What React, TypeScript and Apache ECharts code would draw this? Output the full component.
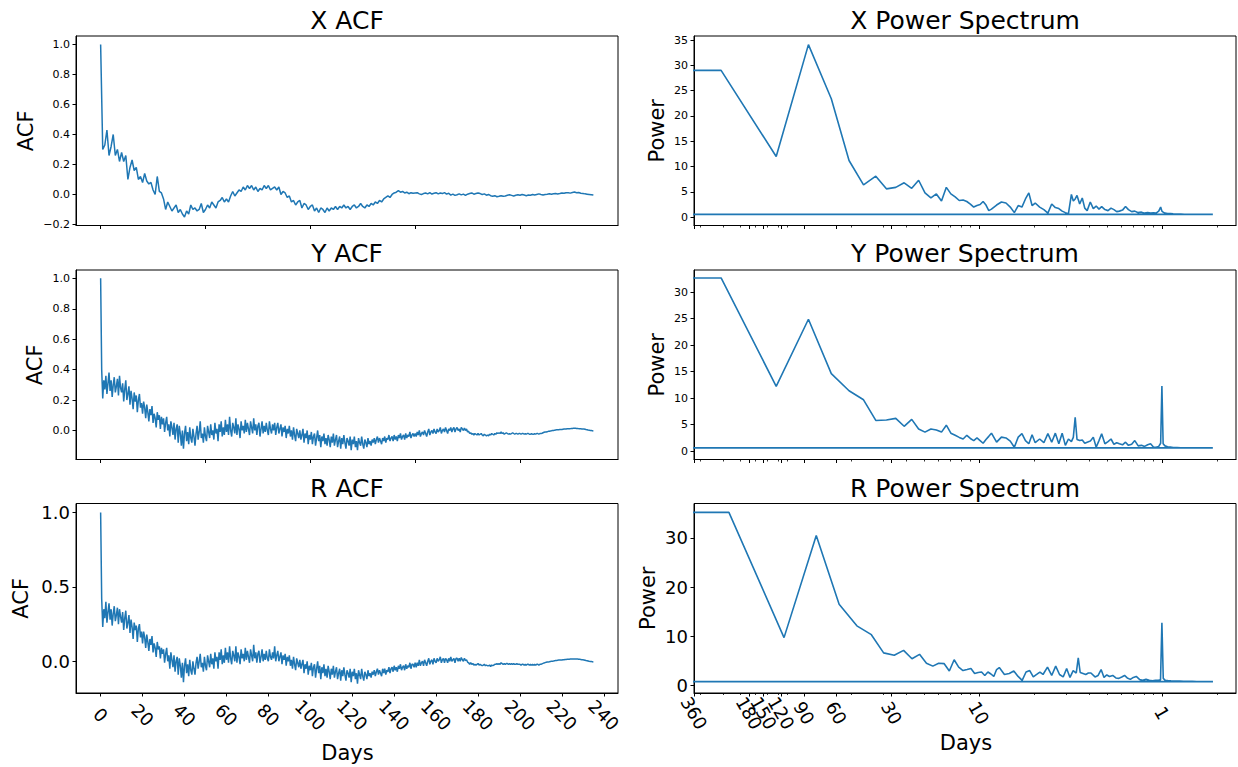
import React, { useEffect, useRef } from "react";
import * as echarts from "echarts";

// ---------------- data ----------------
// ACF values; lag (days) = index * step
const xAcfLagStepDays = 1;
const yrAcfLagStepDays = 0.5;

const xAcf = [
  1.0, 0.30, 0.33, 0.43, 0.26, 0.32, 0.40, 0.26, 0.30, 0.22,
  0.28, 0.22, 0.26, 0.10, 0.18, 0.23, 0.16, 0.18, 0.10, 0.12,
  0.08, 0.14, 0.09, 0.07, 0.08, 0.03, 0.00, 0.12, 0.02, 0.01,
  -0.03, -0.10, -0.05, -0.08, -0.11, -0.09, -0.07, -0.12, -0.10, -0.13,
  -0.15, -0.11, -0.13, -0.07, -0.10, -0.09, -0.11, -0.10, -0.06, -0.12,
  -0.10, -0.07, -0.09, -0.05, -0.07, -0.09, -0.05, -0.04, -0.02, -0.05,
  -0.03, -0.05, -0.01, 0.02, -0.01, 0.01, 0.03, 0.02, 0.05, 0.03,
  0.06, 0.04, 0.06, 0.03, 0.05, 0.02, 0.04, 0.03, 0.06, 0.04,
  0.06, 0.03, 0.04, 0.05, 0.03, 0.05, 0.00, 0.02, 0.01, -0.02,
  -0.01, -0.05, -0.04, -0.07, -0.05, -0.04, -0.09, -0.06, -0.07, -0.10,
  -0.08, -0.07, -0.11, -0.09, -0.12, -0.09, -0.10, -0.12, -0.09, -0.11,
  -0.09, -0.10, -0.08, -0.10, -0.08, -0.09, -0.07, -0.09, -0.08, -0.10,
  -0.08, -0.07, -0.09, -0.08, -0.06, -0.08, -0.09, -0.07, -0.08, -0.06,
  -0.07, -0.05, -0.06, -0.04, -0.05, -0.03, -0.02, -0.01, -0.02, 0.00,
  0.01, 0.015, 0.025, 0.015, 0.02, 0.01, 0.015, 0.005, 0.012, 0.008,
  0.01, 0.012, 0.004, 0.0, 0.006, 0.01, 0.004, 0.012, 0.003, 0.008,
  0.012, 0.004, 0.01, 0.006, 0.012, 0.002, 0.008, -0.004, 0.002, -0.006,
  -0.002, 0.004, -0.003, 0.002, -0.006, 0.002, 0.006, 0.01, 0.002, 0.006,
  0.01, 0.006, 0.0, 0.004, -0.005, 0.0, -0.008, -0.012, -0.008, -0.015,
  -0.012, -0.008, -0.012, -0.01, -0.005, -0.002, -0.006, -0.01, -0.005, -0.002,
  -0.005, 0.0, -0.004, -0.008, -0.004, -0.005, 0.0, -0.004, 0.0, 0.004,
  0.0, -0.003, 0.0, 0.002, 0.005, 0.002, 0.005, 0.006, 0.003, 0.006,
  0.01, 0.008, 0.012, 0.012, 0.009, 0.013, 0.016, 0.012, 0.013, 0.008,
  0.007, 0.004, 0.002, 0.0, -0.002, -0.004,
];

const yAcf = [
  1.00, 0.40, 0.21, 0.33, 0.27, 0.36, 0.24, 0.31, 0.38, 0.26,
  0.33, 0.22, 0.30, 0.35, 0.25, 0.29, 0.34, 0.23, 0.36, 0.28,
  0.25, 0.31, 0.19, 0.27, 0.33, 0.20, 0.24, 0.29, 0.17, 0.26,
  0.21, 0.14, 0.25, 0.19, 0.23, 0.12, 0.20, 0.24, 0.15, 0.18,
  0.11, 0.19, 0.15, 0.08, 0.17, 0.12, 0.06, 0.14, 0.10, 0.16,
  0.05, 0.11, 0.08, 0.02, 0.12, 0.07, 0.10, 0.01, 0.09, 0.04,
  0.08, -0.01, 0.05, 0.09, 0.00, 0.04, -0.04, 0.06, 0.02, -0.03,
  0.05, -0.06, 0.01, 0.04, -0.08, 0.03, -0.02, -0.10, 0.00, -0.12,
  -0.02, 0.03, -0.07, -0.01, -0.09, 0.02, -0.05, -0.08, 0.01, -0.04,
  -0.10, -0.02, 0.03, -0.06, -0.01, 0.06, -0.05, -0.02, -0.08, 0.02,
  -0.04, -0.07, 0.03, -0.01, -0.05, 0.04, -0.03, 0.00, -0.06, 0.05,
  -0.02, 0.01, -0.07, 0.04, -0.01, 0.06, -0.04, 0.02, -0.03, 0.07,
  -0.01, 0.04, -0.03, 0.09, 0.00, -0.04, 0.05, 0.02, -0.02, 0.08,
  -0.03, 0.04, 0.01, -0.05, 0.06, 0.00, 0.03, -0.02, 0.07, -0.01,
  0.05, 0.01, -0.03, 0.06, 0.02, -0.02, 0.08, 0.00, 0.04, -0.03,
  0.03, 0.05, -0.04, 0.01, 0.06, -0.02, 0.03, -0.01, 0.05, 0.00,
  -0.03, 0.06, 0.01, -0.02, 0.04, 0.00, 0.05, -0.03, 0.02, 0.05,
  -0.02, 0.01, 0.04, -0.04, 0.02, -0.01, 0.03, -0.05, 0.01, -0.02,
  0.03, -0.04, 0.00, -0.06, 0.02, -0.03, -0.07, 0.01, -0.02, -0.05,
  0.00, -0.06, -0.03, 0.01, -0.08, -0.02, -0.05, 0.00, -0.09, -0.03,
  -0.06, -0.01, -0.09, -0.04, -0.02, -0.10, -0.05, 0.00, -0.07, -0.03,
  -0.11, -0.04, -0.07, -0.02, -0.09, -0.05, -0.10, -0.03, -0.06, -0.11,
  -0.04, -0.08, -0.02, -0.10, -0.06, -0.03, -0.11, -0.07, -0.04, -0.12,
  -0.05, -0.09, -0.03, -0.08, -0.12, -0.05, -0.07, -0.10, -0.04, -0.13,
  -0.06, -0.09, -0.04, -0.11, -0.07, -0.13, -0.05, -0.08, -0.10, -0.04,
  -0.09, -0.12, -0.06, -0.08, -0.11, -0.05, -0.09, -0.07, -0.10, -0.06,
  -0.08, -0.05, -0.09, -0.06, -0.04, -0.08, -0.05, -0.07, -0.09, -0.05,
  -0.07, -0.04, -0.08, -0.05, -0.06, -0.03, -0.07, -0.05, -0.04, -0.07,
  -0.03, -0.06, -0.04, -0.07, -0.03, -0.05, -0.02, -0.06, -0.04, -0.03,
  -0.06, -0.02, -0.05, -0.03, -0.04, -0.01, -0.05, -0.03, -0.02, -0.04,
  -0.02, -0.04, -0.01, -0.03, 0.00, -0.04, -0.02, -0.01, -0.03, 0.00,
  -0.02, -0.04, -0.01, 0.01, -0.03, -0.01, 0.00, -0.02, 0.01, -0.01,
  -0.02, 0.01, -0.01, 0.00, 0.02, -0.02, 0.00, 0.01, -0.01, 0.02,
  0.00, -0.02, 0.01, 0.00, 0.02, -0.01, 0.01, 0.02, -0.01, 0.01,
  0.02, 0.00, 0.01, -0.01, 0.02, 0.01, 0.00, 0.015, 0.00, 0.01,
  -0.01, -0.005, -0.02, -0.015, -0.025, -0.02, -0.03, -0.02, -0.025, -0.03,
  -0.02, -0.03, -0.025, -0.02, -0.03, -0.035, -0.025, -0.03, -0.035, -0.03,
  -0.035, -0.025, -0.03, -0.02, -0.025, -0.03, -0.02, -0.025, -0.015, -0.02,
  -0.015, -0.02, -0.01, -0.02, -0.015, -0.025, -0.02, -0.015, -0.02, -0.025,
  -0.02, -0.025, -0.02, -0.015, -0.02, -0.025, -0.02, -0.02, -0.025, -0.02,
  -0.02, -0.025, -0.02, -0.02, -0.025, -0.02, -0.025, -0.02, -0.02, -0.025,
  -0.025, -0.02, -0.025, -0.025, -0.02, -0.025, -0.02, -0.02, -0.025, -0.02,
  -0.02, -0.018, -0.015, -0.012, -0.01, -0.01, -0.008, -0.006, -0.005, -0.003,
  -0.002, 0.0, 0.0, 0.002, 0.003, 0.004, 0.005, 0.005, 0.006, 0.007,
  0.007, 0.008, 0.009, 0.01, 0.01, 0.011, 0.011, 0.012, 0.012, 0.013,
  0.013, 0.014, 0.014, 0.014, 0.013, 0.013, 0.012, 0.012, 0.011, 0.01,
  0.01, 0.009, 0.008, 0.006, 0.005, 0.003, 0.002, 0.0, -0.001, -0.002,
  -0.003,
];

const rAcf = [
  1.00, 0.42, 0.23, 0.35, 0.29, 0.40, 0.26, 0.33, 0.39, 0.28,
  0.35, 0.24, 0.32, 0.37, 0.27, 0.31, 0.36, 0.25, 0.35, 0.30,
  0.26, 0.33, 0.21, 0.29, 0.34, 0.22, 0.26, 0.31, 0.19, 0.28,
  0.23, 0.15, 0.26, 0.21, 0.24, 0.13, 0.22, 0.25, 0.16, 0.20,
  0.12, 0.20, 0.16, 0.09, 0.18, 0.13, 0.07, 0.15, 0.11, 0.17,
  0.06, 0.12, 0.09, 0.03, 0.13, 0.08, 0.10, 0.02, 0.09, 0.05,
  0.08, -0.01, 0.05, 0.09, 0.00, 0.04, -0.05, 0.06, 0.01, -0.04,
  0.04, -0.07, 0.00, 0.03, -0.09, 0.02, -0.03, -0.11, -0.01, -0.14,
  -0.03, 0.02, -0.08, -0.02, -0.10, 0.01, -0.06, -0.09, 0.00, -0.05,
  -0.09, -0.01, 0.03, -0.05, 0.00, 0.05, -0.04, -0.01, -0.07, 0.03,
  -0.03, -0.06, 0.04, 0.00, -0.04, 0.05, -0.02, 0.02, -0.05, 0.06,
  0.00, 0.03, -0.05, 0.06, 0.01, 0.08, -0.02, 0.04, -0.01, 0.09,
  0.01, 0.06, -0.01, 0.10, 0.02, -0.02, 0.07, 0.04, 0.00, 0.10,
  -0.01, 0.06, 0.03, -0.02, 0.08, 0.02, 0.05, 0.00, 0.09, 0.01,
  0.07, 0.03, -0.01, 0.08, 0.04, 0.00, 0.11, 0.02, 0.06, -0.01,
  0.05, 0.07, -0.01, 0.03, 0.08, 0.00, 0.05, 0.01, 0.07, 0.02,
  0.00, 0.08, 0.03, 0.01, 0.06, 0.02, 0.10, 0.00, 0.04, 0.07,
  0.00, 0.03, 0.06, -0.02, 0.04, 0.01, 0.05, -0.03, 0.03, 0.00,
  0.04, -0.03, 0.01, -0.05, 0.03, -0.02, -0.06, 0.02, -0.01, -0.04,
  0.01, -0.05, -0.02, 0.01, -0.08, -0.02, -0.05, 0.00, -0.09, -0.03,
  -0.06, -0.01, -0.10, -0.04, -0.02, -0.11, -0.05, 0.00, -0.08, -0.03,
  -0.12, -0.04, -0.08, -0.02, -0.10, -0.05, -0.11, -0.03, -0.07, -0.12,
  -0.05, -0.09, -0.03, -0.11, -0.07, -0.04, -0.12, -0.08, -0.05, -0.13,
  -0.06, -0.10, -0.04, -0.09, -0.13, -0.06, -0.08, -0.11, -0.05, -0.14,
  -0.07, -0.10, -0.05, -0.12, -0.08, -0.15, -0.06, -0.09, -0.12, -0.05,
  -0.10, -0.13, -0.07, -0.09, -0.12, -0.06, -0.10, -0.08, -0.11, -0.07,
  -0.09, -0.06, -0.10, -0.07, -0.05, -0.09, -0.06, -0.08, -0.10, -0.05,
  -0.08, -0.05, -0.09, -0.06, -0.07, -0.04, -0.08, -0.05, -0.04, -0.07,
  -0.03, -0.06, -0.04, -0.07, -0.03, -0.05, -0.02, -0.06, -0.04, -0.03,
  -0.06, -0.02, -0.05, -0.03, -0.04, -0.01, -0.05, -0.02, -0.02, -0.04,
  -0.01, -0.04, -0.01, -0.03, 0.01, -0.03, -0.01, 0.00, -0.03, 0.01,
  -0.01, -0.03, 0.00, 0.02, -0.02, 0.00, 0.01, -0.02, 0.02, 0.00,
  -0.01, 0.02, 0.00, 0.01, 0.03, -0.01, 0.01, 0.02, -0.01, 0.02,
  0.01, -0.01, 0.02, 0.00, 0.03, 0.00, 0.01, 0.02, -0.01, 0.02,
  0.02, 0.00, 0.02, 0.00, 0.025, 0.01, 0.00, 0.02, 0.005, 0.01,
  -0.005, -0.01, -0.02, -0.01, -0.02, -0.015, -0.025, -0.02, -0.025, -0.02,
  -0.015, -0.025, -0.02, -0.025, -0.03, -0.025, -0.02, -0.03, -0.025, -0.03,
  -0.03, -0.025, -0.035, -0.025, -0.03, -0.025, -0.02, -0.02, -0.015, -0.02,
  -0.015, -0.02, -0.01, -0.015, -0.02, -0.015, -0.02, -0.015, -0.015, -0.02,
  -0.015, -0.02, -0.015, -0.02, -0.015, -0.02, -0.02, -0.015, -0.02, -0.02,
  -0.02, -0.025, -0.02, -0.02, -0.025, -0.02, -0.025, -0.02, -0.02, -0.025,
  -0.02, -0.025, -0.02, -0.025, -0.02, -0.025, -0.02, -0.02, -0.025, -0.02,
  -0.02, -0.017, -0.014, -0.011, -0.009, -0.007, -0.005, -0.004, -0.003, -0.001,
  0.0, 0.001, 0.002, 0.004, 0.005, 0.006, 0.007, 0.008, 0.008, 0.009,
  0.009, 0.01, 0.011, 0.012, 0.012, 0.013, 0.014, 0.014, 0.015, 0.015,
  0.015, 0.016, 0.016, 0.016, 0.015, 0.015, 0.014, 0.013, 0.012, 0.011,
  0.01, 0.009, 0.007, 0.005, 0.004, 0.002, 0.0, -0.001, -0.002, -0.003,
  -0.004,
];

// Power spectra: harmonic number k, frequency = k / record length (cycles per day)
const xyRecordDays = 256;
const xyHarmonics = [
  1, 2, 3, 4, 5, 6, 7, 8, 9, 10, 11, 12, 13, 14, 15, 16, 17, 18, 19, 20,
  21, 22, 23, 24, 25, 26, 27, 28, 29, 30,
  32, 34, 36, 38, 40, 42, 44, 46, 48, 50,
  52, 55, 58, 61, 64, 67, 70, 73, 76, 79, 82, 84, 86, 88, 91, 94, 97, 100,
  104, 108, 112, 116, 120, 125, 130, 135, 140, 145, 150,
  156, 162, 168, 175, 182, 190, 198, 206, 214, 222, 230, 238, 246, 252, 256,
  260, 266, 275, 285, 295, 310, 325, 340, 360, 380, 400, 425, 450, 486,
];
const xPower = [
  29.0, 12.0, 34.1, 23.4, 11.2, 6.4, 8.1, 5.6, 5.9, 6.8,
  5.7, 7.3, 4.8, 3.8, 4.6, 3.2, 5.9, 4.6, 4.0, 3.3,
  3.4, 3.1, 2.6, 2.0, 2.3, 2.5, 3.1, 2.4, 1.3, 1.6,
  2.4, 3.0, 2.8, 2.0, 0.9, 2.3, 2.0, 3.6, 4.8, 2.3,
  2.8, 2.0, 1.5, 0.8, 2.6, 1.9, 1.7, 1.2, 0.9, 0.7, 4.5, 3.2, 3.6, 4.3, 2.6, 3.8, 1.8, 1.3,
  3.0, 1.7, 2.2, 1.6, 2.1, 1.5, 1.3, 1.8, 1.5, 1.1, 1.2,
  1.4, 2.1, 1.5, 1.1, 1.2, 0.9, 1.0, 0.8, 0.9, 0.8, 0.85, 0.8, 1.2, 2.0, 1.2,
  1.0, 0.8, 0.7, 0.7, 0.65, 0.6, 0.6, 0.58, 0.57, 0.56, 0.56, 0.55, 0.55, 0.55,
];
const yPower = [
  32.7, 12.25, 24.9, 14.65, 11.4, 9.7, 5.8, 5.9, 6.2, 4.7,
  6.0, 4.2, 3.6, 4.2, 4.0, 3.6, 4.9, 3.4, 3.0, 2.6,
  2.3, 3.0, 2.4, 2.0, 2.5, 2.0, 1.5, 2.2, 2.8, 3.4,
  1.7, 2.65, 2.5, 1.9, 0.75, 2.65, 3.3, 2.0, 1.4, 3.1,
  1.6, 2.3, 1.6, 3.3, 1.7, 3.4, 1.4, 3.4, 1.1, 2.3, 1.8, 2.6, 6.4, 2.2, 2.0, 2.1, 1.5, 1.7,
  1.9, 2.65, 0.75, 2.0, 3.3, 1.4, 1.8, 2.3, 1.3, 1.6, 1.4,
  1.2, 1.7, 1.1, 1.3, 2.0, 1.0, 1.1, 0.9, 1.2, 1.4, 0.8, 0.75, 0.9, 1.5, 12.3,
  1.4, 1.0, 0.85, 0.8, 0.7, 0.68, 0.65, 0.65, 0.63, 0.63, 0.62, 0.62, 0.62, 0.62,
];
const rRecordDays = 232;
const rHarmonics = [
  1, 2, 3, 4, 5, 6, 7, 8, 9, 10, 11, 12, 13, 14, 15, 16, 17, 18, 19, 20,
  21, 22, 23, 24, 25, 26, 27, 28, 29, 30,
  32, 34, 36, 38, 40, 42, 44, 46, 48, 50,
  52, 55, 58, 61, 64, 67, 70, 73, 76, 79, 81, 83, 86, 89, 92, 95, 100,
  104, 108, 112, 116, 120, 125, 130, 135, 140, 145, 150,
  156, 162, 168, 175, 182, 190, 198, 206, 214, 222, 228, 232, 236, 242, 250,
  260, 275, 290, 305, 320, 340, 360, 380, 400, 420, 441,
];
const rPower = [
  35.2, 9.7, 30.5, 16.5, 12.1, 10.3, 6.6, 6.1, 7.1, 5.4,
  6.3, 4.5, 3.9, 4.5, 4.4, 2.9, 5.2, 3.7, 3.0, 3.2,
  3.4, 2.4, 2.6, 2.7, 2.0, 2.7, 2.3, 1.8, 3.2, 3.6,
  2.2, 2.4, 2.9, 1.8, 1.0, 2.7, 3.0, 1.7, 2.2, 2.7,
  2.2, 3.7, 2.0, 3.9, 2.2, 1.7, 3.4, 1.6, 3.0, 2.5, 5.6, 2.6, 2.4, 2.2, 2.5, 2.5, 1.7,
  2.0, 3.2, 1.6, 2.1, 1.8, 2.0, 1.5, 1.4, 1.7, 2.0, 1.5,
  1.2, 1.6, 1.8, 1.2, 1.0, 1.2, 1.0, 0.9, 1.0, 1.0, 1.1, 12.7, 1.4, 1.0, 0.95,
  0.9, 0.85, 0.85, 0.8, 0.8, 0.8, 0.78, 0.78, 0.76, 0.76, 0.75,
];
// zero-frequency and negative-frequency powers (lines running off the left of the log axis)
const xZeroFreqPower = 29.0;
const yZeroFreqPower = 32.7;
const rZeroFreqPower = 35.2;
const xNegFreqPower = 0.55;
const yNegFreqPower = 0.62;
const rNegFreqPower = 0.75;
const offAxisFreq = 0.001;

// ticks
const acfLagTicks = [0, 50, 100, 150, 200];
const daysTicks = [0, 20, 40, 60, 80, 100, 120, 140, 160, 180, 200, 220, 240];
const periodTicksDays = [360, 180, 150, 120, 90, 60, 30, 10, 1];
const minorFreqTicks = [
  0.003, 0.004, 0.005, 0.006, 0.007, 0.008, 0.009,
  0.02, 0.03, 0.04, 0.05, 0.06, 0.07, 0.08, 0.09,
  0.2, 0.3, 0.4, 0.5, 0.6, 0.7, 0.8, 0.9, 2,
];
const xAcfValueTicks = [-0.2, 0, 0.2, 0.4, 0.6, 0.8, 1.0];
const yAcfValueTicks = [0, 0.2, 0.4, 0.6, 0.8, 1.0];
const rAcfValueTicks = [0, 0.5, 1.0];
const xPowerTicks = [0, 5, 10, 15, 20, 25, 30, 35];
const yPowerTicks = [0, 5, 10, 15, 20, 25, 30];
const rPowerTicks = [0, 10, 20, 30];

// axis limits
const acfLagMin = -11.75;
const acfLagMax = 246.75;
const freqMin = 1 / 360;
const freqMax = 2.54;

// ---------------- layout / style ----------------
const FONT = '"DejaVu Sans", sans-serif';
const BLUE = "#1f77b4";
const BLACK = "#000";
const colLeft = [76, 694];
const rowTop = [36, 270, 503.5];
const plotW = 542;
const plotH = 189.5;

const lineStyleAxis = { color: BLACK, width: 1 };
const acfFmt = (v: number) => (v < -1e-9 ? "\u2212" : "") + Math.abs(v).toFixed(1);
const intFmt = (v: number) => String(Math.round(v));
const periodFmt = (v: number) => String(Math.round(1 / v));

function yAxisCfg(gridIndex: number, min: number, max: number, ticks: number[], fontSize: number, fmt: (v: number) => string) {
  return {
    type: "value",
    gridIndex,
    min,
    max,
    position: "left",
    axisLine: { show: true, onZero: false, lineStyle: lineStyleAxis },
    axisTick: { show: true, length: 3.5, lineStyle: lineStyleAxis, customValues: ticks },
    axisLabel: {
      show: true,
      customValues: ticks,
      formatter: fmt,
      fontSize,
      fontFamily: FONT,
      color: BLACK,
      margin: 6,
      hideOverlap: false,
      showMinLabel: true,
      showMaxLabel: true,
    },
    splitLine: { show: false },
  };
}

function acfXAxis(gridIndex: number, labelled: boolean) {
  return {
    type: "value",
    gridIndex,
    min: acfLagMin,
    max: acfLagMax,
    position: "bottom",
    axisLine: { show: true, onZero: false, lineStyle: lineStyleAxis },
    axisTick: { show: true, length: 3.5, lineStyle: lineStyleAxis, customValues: labelled ? daysTicks : acfLagTicks },
    axisLabel: {
      show: labelled,
      customValues: daysTicks,
      formatter: intFmt,
      rotate: -45,
      align: "center",
      verticalAlign: "middle",
      margin: 22,
      fontSize: 18,
      fontFamily: FONT,
      color: BLACK,
      hideOverlap: false,
      showMinLabel: true,
      showMaxLabel: true,
    },
    splitLine: { show: false },
  };
}

function freqXAxis(gridIndex: number, labelled: boolean) {
  const ticks = periodTicksDays.map((p) => 1 / p);
  return {
    type: "log",
    logBase: 10,
    gridIndex,
    min: freqMin,
    max: freqMax,
    position: "bottom",
    axisLine: { show: true, onZero: false, lineStyle: lineStyleAxis },
    axisTick: { show: true, length: 3.5, lineStyle: lineStyleAxis, customValues: ticks },
    axisLabel: {
      show: labelled,
      customValues: ticks,
      formatter: periodFmt,
      rotate: -60,
      align: "center",
      verticalAlign: "middle",
      margin: 20,
      fontSize: 18,
      fontFamily: FONT,
      color: BLACK,
      hideOverlap: false,
      showMinLabel: true,
      showMaxLabel: true,
    },
    splitLine: { show: false },
    minorTick: { show: false },
  };
}

function freqMinorAxis(gridIndex: number) {
  return {
    type: "log",
    logBase: 10,
    gridIndex,
    min: freqMin,
    max: freqMax,
    position: "bottom",
    axisLine: { show: false, onZero: false },
    axisTick: { show: true, length: 2, lineStyle: { color: BLACK, width: 0.8 }, customValues: minorFreqTicks },
    axisLabel: { show: false },
    splitLine: { show: false },
  };
}

function buildOption() {
  const panels = [
    {
      acf: xAcf, step: xAcfLagStepDays, acfTicks: xAcfValueTicks, acfMin: -0.207, acfMax: 1.057, acfFont: 11, acfTitle: "X ACF",
      harm: xyHarmonics, rec: xyRecordDays, pow: xPower, p0: xZeroFreqPower, pn: xNegFreqPower,
      powTicks: xPowerTicks, powMin: -1.64, powMax: 35.8, powFont: 11, powTitle: "X Power Spectrum",
    },
    {
      acf: yAcf, step: yrAcfLagStepDays, acfTicks: yAcfValueTicks, acfMin: -0.191, acfMax: 1.055, acfFont: 11, acfTitle: "Y ACF",
      harm: xyHarmonics, rec: xyRecordDays, pow: yPower, p0: yZeroFreqPower, pn: yNegFreqPower,
      powTicks: yPowerTicks, powMin: -1.57, powMax: 34.2, powFont: 11, powTitle: "Y Power Spectrum",
    },
    {
      acf: rAcf, step: yrAcfLagStepDays, acfTicks: rAcfValueTicks, acfMin: -0.213, acfMax: 1.06, acfFont: 18, acfTitle: "R ACF",
      harm: rHarmonics, rec: rRecordDays, pow: rPower, p0: rZeroFreqPower, pn: rNegFreqPower,
      powTicks: rPowerTicks, powMin: -1.57, powMax: 37.0, powFont: 18, powTitle: "R Power Spectrum",
    },
  ];

  const grid: any[] = [];
  const xAxis: any[] = [];
  const yAxis: any[] = [];
  const series: any[] = [];
  const graphic: any[] = [];

  const ylabelX = [
    [25.5, 657],
    [35, 656.7],
    [21, 648],
  ];

  panels.forEach((p, r) => {
    const last = r === 2;
    // ACF panel
    const gA = grid.length;
    grid.push({
      left: colLeft[0], top: rowTop[r], width: plotW, height: plotH,
      show: true, borderColor: BLACK, borderWidth: 1, backgroundColor: "transparent",
      containLabel: false, outerBoundsMode: "none",
    });
    const xa = xAxis.length;
    xAxis.push(acfXAxis(gA, last));
    const ya = yAxis.length;
    yAxis.push(yAxisCfg(gA, p.acfMin, p.acfMax, p.acfTicks, p.acfFont, acfFmt));
    series.push({
      type: "line",
      xAxisIndex: xa,
      yAxisIndex: ya,
      data: p.acf.map((v, i) => [i * p.step, v]),
      showSymbol: false,
      symbol: "none",
      lineStyle: { color: BLUE, width: 1.5 },
      itemStyle: { color: BLUE },
      clip: true,
      silent: true,
    });

    // Power panel
    const gP = grid.length;
    grid.push({
      left: colLeft[1], top: rowTop[r], width: plotW, height: plotH,
      show: true, borderColor: BLACK, borderWidth: 1, backgroundColor: "transparent",
      containLabel: false, outerBoundsMode: "none",
    });
    const xp = xAxis.length;
    xAxis.push(freqXAxis(gP, last));
    xAxis.push(freqMinorAxis(gP));
    const yp = yAxis.length;
    yAxis.push(yAxisCfg(gP, p.powMin, p.powMax, p.powTicks, p.powFont, intFmt));
    const specData: number[][] = [[offAxisFreq, p.p0]];
    p.harm.forEach((k, i) => specData.push([k / p.rec, p.pow[i]]));
    specData.push([offAxisFreq, p.pn]);
    series.push({
      type: "line",
      xAxisIndex: xp,
      yAxisIndex: yp,
      data: specData,
      showSymbol: false,
      symbol: "none",
      lineStyle: { color: BLUE, width: 1.6 },
      itemStyle: { color: BLUE },
      clip: true,
      silent: true,
    });

    // titles
    const titleY = [20.5, 253.9, 488][r];
    [p.acfTitle, p.powTitle].forEach((t, c) => {
      graphic.push({
        type: "text",
        x: colLeft[c] + plotW / 2,
        y: titleY,
        style: {
          text: t, fontSize: 25, fontFamily: FONT, fill: BLACK,
          align: "center", verticalAlign: "middle", textAlign: "center", textVerticalAlign: "middle",
        },
      });
    });
    // y labels
    ["ACF", "Power"].forEach((t, c) => {
      graphic.push({
        type: "text",
        x: ylabelX[r][c],
        y: rowTop[r] + plotH / 2,
        rotation: Math.PI / 2,
        style: {
          text: t, fontSize: 21, fontFamily: FONT, fill: BLACK,
          align: "center", verticalAlign: "middle", textAlign: "center", textVerticalAlign: "middle",
        },
      });
    });
  });

  // x labels
  [
    [347.5, 752.5],
    [966, 743],
  ].forEach(([x, y]) => {
    graphic.push({
      type: "text",
      x,
      y,
      style: {
        text: "Days", fontSize: 21, fontFamily: FONT, fill: BLACK,
        align: "center", verticalAlign: "middle", textAlign: "center", textVerticalAlign: "middle",
      },
    });
  });

  return {
    animation: false,
    backgroundColor: "#fff",
    textStyle: { fontFamily: FONT },
    grid,
    xAxis,
    yAxis,
    series,
    graphic,
  };
}

export default function App() {
  const ref = useRef<HTMLDivElement>(null);
  useEffect(() => {
    if (!ref.current) return;
    const chart = echarts.init(ref.current, undefined, { renderer: "svg" });
    chart.setOption(buildOption() as any);
    return () => chart.dispose();
  }, []);
  return (
    <div
      ref={ref}
      style={{ position: "fixed", left: 0, top: 0, width: 1238, height: 767, background: "#fff" }}
    />
  );
}
